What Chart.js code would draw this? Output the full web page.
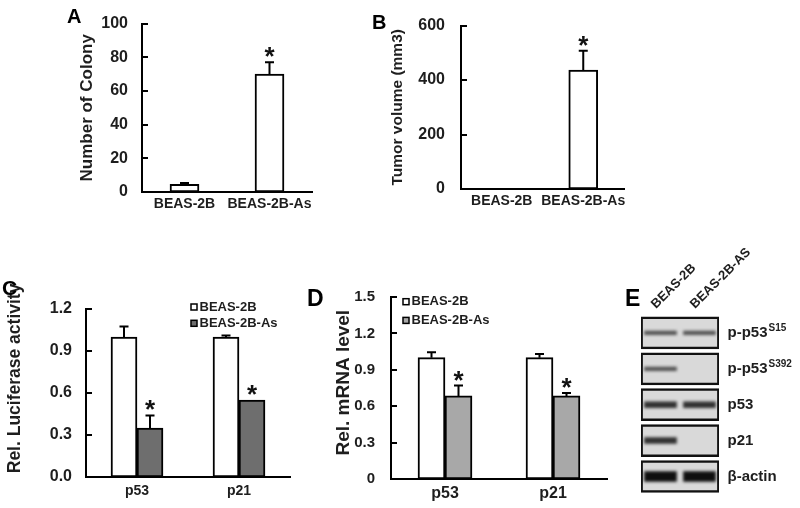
<!DOCTYPE html>
<html>
<head>
<meta charset="utf-8">
<script src="https://cdn.jsdelivr.net/npm/chart.js@4.4.1/dist/chart.umd.min.js"></script>
<style>
  body { margin: 0; background: #fff; }
  #fig { position: relative; width: 800px; height: 508px; overflow: hidden; }
  #fig canvas { position: absolute; left: 0; top: 0; }
  .tag { position: absolute; font-family: 'Liberation Sans', Arial, sans-serif; font-weight: bold; line-height: 1; color: #000; }
</style>
</head>
<body>
<div id="fig">
  <canvas id="chartA" width="800" height="508"></canvas>
  <canvas id="chartB" width="800" height="508"></canvas>
  <canvas id="chartC" width="800" height="508"></canvas>
  <canvas id="chartD" width="800" height="508"></canvas>
  <canvas id="chartE" width="800" height="508"></canvas>
  <div class="tag" style="left:67px;top:6px;font-size:20px">A</div>
  <div class="tag" style="left:372px;top:12px;font-size:20px">B</div>
  <div class="tag" style="left:2px;top:277px;font-size:21px">C</div>
  <div class="tag" style="left:307px;top:287px;font-size:23px">D</div>
  <div class="tag" style="left:625px;top:287px;font-size:23px">E</div>
</div>
<script>
const FONT = "'Liberation Sans', Arial, sans-serif";
Chart.defaults.font.family = FONT;
Chart.defaults.color = '#1e1e1e';

// A: soft agar colonies
const cellLabels = ['BEAS-2B', 'BEAS-2B-As'];
const colonyMean = [4.5, 70];
const colonyErr = [0.8, 7];
const colonyStar = [false, true];

// B: xenograft tumor volume
const tumorMean = [0, 437];
const tumorErr = [0, 71];
const tumorStar = [false, true];

// C: luciferase reporter
const geneLabels = ['p53', 'p21'];
const lucCtrl = [1.0, 1.0];
const lucCtrlErr = [0.075, 0.01];
const lucAs = [0.35, 0.55];
const lucAsErr = [0.09, 0];

// D: mRNA
const mrnaCtrl = [1.0, 1.0];
const mrnaCtrlErr = [0.045, 0.03];
const mrnaAs = [0.685, 0.685];
const mrnaAsErr = [0.085, 0.023];
const asStar = [true, true];
const noStar = [false, false];

// E: western blot, band signal per lane (0 = no band)
const blotLanes = ['BEAS-2B', 'BEAS-2B-AS'];
const blotRows = ['p-p53', 'p-p53', 'p53', 'p21', 'β-actin'];
const blotSites = ['S15', 'S392', '', '', ''];
const blotCtrl = [0.45, 0.45, 0.7, 0.7, 1.0];
const blotAs = [0.45, 0, 0.7, 0, 1.0];

const errorBars = {
  id: 'errorBars',
  afterDatasetsDraw(chart) {
    const { ctx } = chart;
    const y = chart.scales.y;
    chart.data.datasets.forEach((ds, di) => {
      const meta = chart.getDatasetMeta(di);
      meta.data.forEach((bar, i) => {
        const v = ds.data[i];
        if (v == null) return;
        const e = ds.errors ? ds.errors[i] : 0;
        const top = y.getPixelForValue(v + e);
        ctx.save();
        ctx.strokeStyle = '#000';
        ctx.lineWidth = 2;
        if (e > 0) {
          ctx.beginPath();
          ctx.moveTo(bar.x, bar.y);
          ctx.lineTo(bar.x, top);
          ctx.moveTo(bar.x - 4.5, top);
          ctx.lineTo(bar.x + 4.5, top);
          ctx.stroke();
        }
        if (ds.stars && ds.stars[i]) {
          ctx.fillStyle = '#111';
          ctx.font = 'bold 26px ' + FONT;
          ctx.textAlign = 'center';
          ctx.textBaseline = 'alphabetic';
          ctx.fillText('*', bar.x, top + 3);
        }
        ctx.restore();
      });
    });
  }
};

// short tick marks pointing into the plot, as in the figure
const innerTicks = {
  id: 'innerTicks',
  afterDraw(chart) {
    const { ctx, chartArea } = chart;
    const y = chart.scales.y;
    ctx.save();
    ctx.strokeStyle = '#000';
    ctx.lineWidth = 2;
    ctx.beginPath();
    y.ticks.forEach(t => {
      const py = Math.round(y.getPixelForValue(t.value));
      ctx.moveTo(chartArea.left, py);
      ctx.lineTo(chartArea.left + 6, py);
    });
    ctx.stroke();
    ctx.restore();
  }
};

const boxLegend = {
  id: 'boxLegend',
  afterDraw(chart, args, opts) {
    if (!opts || !opts.show) return;
    const { ctx, chartArea } = chart;
    const x0 = opts.fromRight ? chartArea.right - opts.dx : chartArea.left + opts.dx;
    ctx.save();
    ctx.font = 'bold 13px ' + FONT;
    ctx.textBaseline = 'middle';
    chart.data.datasets.forEach((ds, i) => {
      const y = chartArea.top + opts.dy + i * opts.gap;
      ctx.fillStyle = ds.backgroundColor;
      ctx.fillRect(x0, y - 3, 6, 6);
      ctx.strokeStyle = '#000';
      ctx.lineWidth = 1.5;
      ctx.strokeRect(x0, y - 3, 6, 6);
      ctx.fillStyle = '#1e1e1e';
      ctx.fillText(ds.label, x0 + 8.5, y);
    });
    ctx.restore();
  }
};

function barPanel(id, p) {
  const padLeft = p.titleX - 14;
  const yWidth = p.area.left - padLeft;
  return new Chart(document.getElementById(id), {
    type: 'bar',
    data: {
      labels: p.labels,
      datasets: p.series.map(s => ({
        label: s.label,
        data: s.data,
        errors: s.errors,
        stars: s.stars,
        backgroundColor: s.color,
        borderColor: '#000',
        borderWidth: 2,
        borderSkipped: false,
        barThickness: p.barWidth
      }))
    },
    plugins: [errorBars, innerTicks, boxLegend],
    options: {
      responsive: false,
      animation: false,
      events: [],
      layout: {
        padding: { left: padLeft, right: 800 - p.area.right, top: p.area.top, bottom: 508 - p.area.bottom - 30 }
      },
      plugins: {
        legend: { display: false },
        tooltip: { enabled: false },
        boxLegend: p.legend || { show: false }
      },
      scales: {
        x: {
          grid: { display: false, drawTicks: false },
          border: { display: true, color: '#000', width: 2 },
          ticks: { font: { size: p.xFont, weight: 'bold' }, padding: p.xPad, maxRotation: 0, autoSkip: false },
          afterFit: s => { s.height = 30; }
        },
        y: {
          min: p.yMin,
          max: p.yMax,
          grid: { display: false, drawTicks: false },
          border: { display: true, color: '#000', width: 2 },
          ticks: { stepSize: p.step, font: { size: p.yFont, weight: 'bold' }, padding: p.tickGap, callback: p.fmt },
          title: { display: true, text: p.yTitle, font: { size: p.titleSize, weight: 'bold' }, padding: { top: 4, bottom: 4 } },
          afterFit: s => { s.width = yWidth; }
        }
      }
    }
  });
}

barPanel('chartA', {
  labels: cellLabels,
  series: [{ label: 'Colony', data: colonyMean, errors: colonyErr, stars: colonyStar, color: '#fff' }],
  area: { left: 142, right: 312, top: 23, bottom: 192 },
  titleX: 87, yTitle: 'Number of Colony', titleSize: 17,
  yMin: 0, yMax: 100, step: 20, fmt: v => v,
  barWidth: 29, xFont: 14, yFont: 16, tickGap: 14, xPad: 4
});

barPanel('chartB', {
  labels: cellLabels,
  series: [{ label: 'Tumor', data: tumorMean, errors: tumorErr, stars: tumorStar, color: '#fff' }],
  area: { left: 461, right: 624, top: 23, bottom: 189 },
  titleX: 398, yTitle: 'Tumor volume (mm3)', titleSize: 15.5,
  yMin: 0, yMax: 600, step: 200, fmt: v => v,
  barWidth: 29, xFont: 14, yFont: 16, tickGap: 16, xPad: 4
});

barPanel('chartC', {
  labels: geneLabels,
  series: [
    { label: 'BEAS-2B', data: lucCtrl, errors: lucCtrlErr, stars: noStar, color: '#ffffff' },
    { label: 'BEAS-2B-As', data: lucAs, errors: lucAsErr, stars: asStar, color: '#6e6e6e' }
  ],
  area: { left: 86, right: 290, top: 309, bottom: 477 },
  // leading spaces lift the centred title to where the figure has it
  titleX: 15, yTitle: '      Rel. Luciferase activity', titleSize: 17.5,
  yMin: 0, yMax: 1.2, step: 0.3, fmt: v => v.toFixed(1),
  barWidth: 26, xFont: 14, yFont: 16, tickGap: 14, xPad: 6,
  legend: { show: true, fromRight: true, dx: 99, dy: -2, gap: 16.3 }
});

barPanel('chartD', {
  labels: geneLabels,
  series: [
    { label: 'BEAS-2B', data: mrnaCtrl, errors: mrnaCtrlErr, stars: noStar, color: '#ffffff' },
    { label: 'BEAS-2B-As', data: mrnaAs, errors: mrnaAsErr, stars: asStar, color: '#a8a8a8' }
  ],
  area: { left: 391, right: 607, top: 297, bottom: 479 },
  titleX: 342, yTitle: '  Rel. mRNA level', titleSize: 19,
  yMin: 0, yMax: 1.5, step: 0.3, fmt: v => +v.toFixed(1),
  barWidth: 27, xFont: 16, yFont: 15, tickGap: 16, xPad: 5,
  legend: { show: true, fromRight: false, dx: 12, dy: 4.7, gap: 18.7 }
});

// western blot drawn as floating bars: one membrane strip per row, one band per lane
const bandPx = s => 2 + 8 * s * s;
const bandGray = s => Math.round(220 - 205 * Math.sqrt(s));

const blotPlugin = {
  id: 'blotPlugin',
  beforeDatasetDraw(chart, args) {
    if (chart.data.datasets[args.index].blur) {
      chart.ctx.save();
      chart.ctx.filter = 'blur(1.5px)';
    }
  },
  afterDatasetDraw(chart, args) {
    if (chart.data.datasets[args.index].blur) chart.ctx.restore();
  },
  afterDraw(chart) {
    const { ctx, chartArea } = chart;
    const x = chart.scales.x, y = chart.scales.y;
    ctx.save();
    ctx.fillStyle = '#1e1e1e';
    ctx.textBaseline = 'middle';
    blotRows.forEach((name, i) => {
      const py = y.getPixelForValue(i);
      const px = chartArea.right + 8.5;
      ctx.font = 'bold 15px ' + FONT;
      ctx.fillText(name, px, py);
      if (blotSites[i]) {
        const w = ctx.measureText(name).width;
        ctx.font = 'bold 10px ' + FONT;
        ctx.fillText(blotSites[i], px + w + 1, py - 5);
      }
    });
    ctx.font = 'bold 13px ' + FONT;
    ctx.textBaseline = 'alphabetic';
    blotLanes.forEach((lane, li) => {
      ctx.save();
      ctx.translate(x.getPixelForValue(li + 0.5) - 4.5, chartArea.top - 6);
      ctx.rotate(-Math.PI / 4);
      ctx.fillText(lane, 0, 0);
      ctx.restore();
    });
    ctx.restore();
  }
};

const rowHalf = 0.446;
const laneData = signals => {
  const out = [];
  signals.forEach((s, i) => { if (s > 0) out.push({ s: s, row: i }); });
  return out;
};
const yPerPx = 5 / 179.3;

new Chart(document.getElementById('chartE'), {
  type: 'bar',
  data: {
    datasets: [
      {
        label: 'membrane',
        data: blotRows.map((r, i) => ({ x: 1, y: [i - rowHalf, i + rowHalf] })),
        backgroundColor: '#d9d9d9',
        borderColor: '#111',
        borderWidth: 2.5,
        borderSkipped: false,
        barThickness: 78.6,
        grouped: false,
        order: 2
      },
      ...[blotCtrl, blotAs].map((sig, li) => ({
        label: blotLanes[li],
        data: laneData(sig).map(b => ({
          x: li + 0.5,
          y: [b.row - bandPx(b.s) * yPerPx / 2, b.row + bandPx(b.s) * yPerPx / 2],
          s: b.s
        })),
        backgroundColor: c => { const g = bandGray(c.raw.s); return `rgb(${g},${g},${g})`; },
        borderWidth: 0,
        barThickness: 32,
        grouped: false,
        blur: true,
        order: 1
      }))
    ]
  },
  plugins: [blotPlugin],
  options: {
    responsive: false,
    animation: false,
    events: [],
    layout: { padding: { left: 641, right: 81, top: 315, bottom: 13.6 } },
    plugins: { legend: { display: false }, tooltip: { enabled: false } },
    scales: {
      x: { type: 'linear', min: 0, max: 2, offset: false, display: false },
      y: { type: 'linear', min: -0.5, max: 4.5, reverse: true, display: false }
    }
  }
});
</script>
</body>
</html>
